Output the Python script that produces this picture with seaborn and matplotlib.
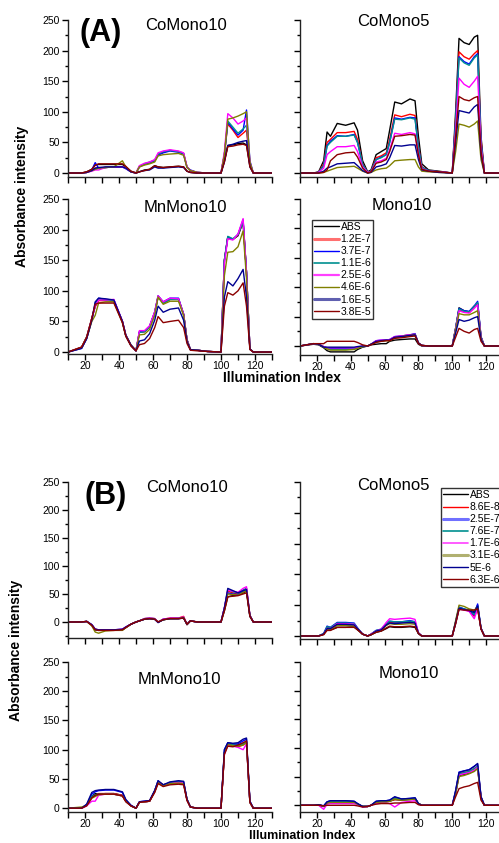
import pandas as pd
import seaborn as sns
import matplotlib.pyplot as plt
from matplotlib.lines import Line2D
from matplotlib.ticker import MultipleLocator

idx = [10, 18, 21, 24, 26, 28, 32, 37, 42, 44, 47, 50,
       52, 55, 58, 61, 63, 66, 70, 75, 78, 80, 82, 86, 92,
       100, 102, 104, 107, 110, 113, 115, 117, 119, 130]

labels_a = ['ABS', '1.2E-7', '3.7E-7', '1.1E-6', '2.5E-6', '4.6E-6', '1.6E-5', '3.8E-5']
labels_b = ['ABS', '8.6E-8', '2.5E-7', '7.6E-7', '1.7E-6', '3.1E-6', '5E-6', '6.3E-6']
colors = ['#000000', '#ff0000', '#0000ff', '#009090', '#ff00ff', '#808000', '#000090', '#8b0000']

# --- (A) ---
a_comono10 = [
    [0, 0, 2, 6, 13, 14, 14, 14, 14, 10, 3, 0, 2, 5, 6, 12, 10, 9, 10, 11, 10, 3, 1, 0, 0, 0, 20, 45, 46, 48, 49, 46, 12, 0, 0],
    [0, 0, 1, 4, 8, 8, 9, 10, 10, 8, 2, 0, 10, 14, 17, 20, 30, 34, 37, 35, 32, 10, 4, 1, 0, 0, 30, 80, 70, 58, 65, 70, 15, 0, 0],
    [0, 0, 1, 5, 17, 8, 9, 10, 10, 7, 2, 0, 10, 15, 17, 20, 29, 33, 36, 34, 31, 9, 5, 1, 0, 0, 30, 83, 72, 62, 70, 103, 20, 0, 0],
    [0, 0, 1, 4, 6, 8, 9, 10, 10, 8, 2, 0, 11, 15, 18, 21, 31, 35, 37, 35, 32, 10, 4, 1, 0, 0, 30, 85, 75, 65, 72, 78, 15, 0, 0],
    [0, 0, 1, 3, 5, 5, 9, 10, 10, 8, 2, 0, 12, 16, 18, 22, 33, 36, 38, 36, 33, 10, 4, 1, 0, 0, 35, 97, 90, 80, 85, 90, 18, 0, 0],
    [0, 0, 1, 4, 6, 8, 9, 10, 20, 10, 2, 0, 10, 13, 15, 18, 28, 30, 31, 32, 29, 9, 4, 1, 0, 0, 30, 88, 90, 93, 97, 100, 18, 0, 0],
    [0, 0, 1, 4, 8, 9, 10, 10, 10, 8, 2, 0, 2, 4, 5, 10, 8, 8, 9, 10, 9, 3, 1, 0, 0, 0, 18, 45, 47, 50, 52, 53, 10, 0, 0],
    [0, 0, 2, 6, 13, 15, 15, 15, 15, 11, 3, 0, 2, 4, 6, 12, 10, 9, 10, 11, 10, 3, 1, 0, 0, 0, 18, 43, 44, 46, 47, 45, 10, 0, 0],
]
a_comono5 = [
    [0, 0, 2, 20, 67, 60, 81, 78, 82, 70, 20, 2, 5, 30, 35, 40, 70, 116, 113, 121, 118, 60, 15, 5, 3, 0, 100, 220, 213, 210, 222, 225, 60, 0, 0],
    [0, 0, 1, 15, 50, 55, 66, 66, 68, 55, 15, 1, 3, 25, 28, 33, 55, 95, 92, 96, 94, 45, 10, 4, 2, 0, 90, 198, 190, 186, 195, 200, 55, 0, 0],
    [0, 0, 1, 12, 45, 52, 61, 60, 63, 50, 14, 1, 3, 22, 26, 30, 50, 90, 88, 91, 90, 42, 9, 4, 2, 0, 85, 190, 182, 178, 190, 195, 50, 0, 0],
    [0, 0, 1, 12, 44, 50, 60, 60, 62, 50, 14, 1, 3, 22, 25, 30, 50, 88, 87, 90, 88, 42, 9, 4, 2, 0, 85, 188, 180, 176, 188, 193, 50, 0, 0],
    [0, 0, 1, 8, 30, 35, 43, 43, 45, 35, 10, 1, 2, 18, 20, 24, 38, 65, 63, 66, 64, 32, 7, 3, 2, 0, 70, 155, 145, 140, 150, 158, 42, 0, 0],
    [0, 0, 0, 1, 3, 5, 9, 10, 11, 8, 3, 0, 1, 5, 7, 8, 12, 20, 21, 22, 22, 10, 3, 2, 1, 0, 35, 80, 78, 75, 80, 85, 22, 0, 0],
    [0, 0, 0, 3, 8, 10, 15, 16, 17, 12, 4, 0, 1, 10, 12, 15, 25, 45, 44, 46, 46, 22, 5, 3, 1, 0, 50, 102, 100, 98, 108, 112, 30, 0, 0],
    [0, 0, 0, 1, 5, 20, 30, 33, 34, 26, 8, 0, 2, 16, 18, 22, 35, 60, 61, 63, 62, 30, 6, 3, 2, 0, 60, 125, 120, 118, 123, 125, 35, 0, 0],
]
a_mnmono10 = [
    [0, 8, 25, 55, 75, 86, 85, 84, 50, 28, 12, 2, 33, 34, 42, 65, 90, 80, 86, 86, 62, 20, 4, 3, 1, 0, 150, 188, 184, 190, 212, 130, 5, 0, 0],
    [0, 8, 24, 55, 74, 84, 84, 83, 50, 27, 11, 2, 32, 33, 41, 64, 91, 81, 87, 87, 61, 20, 4, 3, 1, 0, 150, 187, 184, 191, 214, 130, 5, 0, 0],
    [0, 6, 22, 52, 80, 88, 86, 85, 50, 27, 11, 2, 33, 34, 42, 65, 92, 82, 88, 88, 62, 20, 4, 3, 1, 0, 150, 188, 184, 192, 216, 130, 5, 0, 0],
    [0, 7, 23, 54, 76, 86, 85, 84, 50, 27, 11, 2, 32, 33, 41, 64, 90, 80, 86, 86, 61, 20, 4, 3, 1, 0, 150, 189, 185, 192, 213, 130, 5, 0, 0],
    [0, 7, 23, 54, 75, 85, 85, 86, 50, 27, 11, 2, 35, 35, 43, 66, 92, 82, 88, 87, 62, 20, 4, 3, 1, 0, 145, 185, 183, 193, 218, 130, 5, 0, 0],
    [0, 7, 23, 50, 60, 80, 82, 82, 48, 26, 11, 2, 28, 29, 37, 60, 90, 78, 83, 83, 60, 19, 4, 3, 1, 0, 125, 163, 164, 172, 198, 120, 5, 0, 0],
    [0, 6, 22, 52, 82, 88, 87, 85, 50, 27, 11, 2, 18, 20, 30, 52, 75, 65, 70, 72, 52, 17, 4, 3, 1, 0, 90, 115, 108, 120, 135, 90, 5, 0, 0],
    [0, 8, 24, 55, 78, 80, 80, 80, 48, 26, 10, 2, 12, 14, 22, 40, 58, 48, 50, 52, 40, 14, 3, 2, 1, 0, 75, 97, 93, 100, 113, 75, 4, 0, 0],
]
a_mono10 = [
    [0, 3, 2, -3, -8, -10, -10, -10, -10, -6, -2, 0, 2, 3, 4, 4, 8, 10, 11, 12, 12, 3, 0, 0, 0, 0, 30, 65, 60, 58, 68, 72, 15, 0, 0],
    [0, 4, 3, -2, -4, -5, -5, -5, -5, -3, -1, 0, 3, 8, 9, 10, 10, 15, 17, 19, 20, 5, 1, 0, 0, 0, 30, 62, 58, 57, 66, 72, 15, 0, 0],
    [0, 4, 3, -1, -3, -4, -4, -4, -4, -3, -1, 0, 3, 9, 10, 10, 11, 16, 17, 19, 21, 5, 1, 0, 0, 0, 30, 64, 60, 59, 68, 76, 16, 0, 0],
    [0, 4, 3, -2, -4, -6, -6, -6, -5, -3, -1, 0, 3, 8, 9, 10, 10, 15, 16, 18, 20, 5, 1, 0, 0, 0, 30, 63, 59, 58, 67, 74, 15, 0, 0],
    [0, 4, 3, -1, -3, -3, -3, -3, -3, -2, 0, 0, 3, 9, 10, 10, 11, 16, 17, 19, 20, 5, 1, 0, 0, 0, 28, 60, 57, 56, 64, 70, 14, 0, 0],
    [0, 4, 3, -2, -5, -7, -7, -7, -6, -4, -1, 0, 3, 7, 8, 9, 9, 14, 16, 18, 19, 5, 1, 0, 0, 0, 27, 55, 53, 53, 57, 60, 13, 0, 0],
    [0, 4, 3, -2, -2, -2, -2, -2, -2, -1, 0, 0, 3, 8, 9, 10, 10, 15, 16, 18, 19, 5, 1, 0, 0, 0, 22, 45, 42, 44, 48, 50, 11, 0, 0],
    [0, 4, 4, 4, 8, 8, 8, 8, 8, 6, 2, 0, 2, 6, 8, 9, 9, 13, 14, 16, 17, 4, 1, 0, 0, 0, 15, 30, 25, 22, 28, 30, 8, 0, 0],
]

# --- (B) ---
b_comono10 = [
    [0, 0, 1, -5, -13, -14, -14, -14, -14, -10, -4, 0, 2, 5, 6, 5, 0, 4, 6, 6, 7, -4, 2, 0, 0, 0, 20, 45, 47, 48, 52, 55, 10, 0, 0],
    [0, 0, 1, -6, -14, -15, -15, -15, -14, -10, -4, 0, 2, 6, 7, 6, 0, 5, 7, 7, 10, -5, 2, 0, 0, 0, 25, 55, 52, 50, 56, 60, 12, 0, 0],
    [0, 0, 1, -5, -13, -14, -14, -14, -13, -9, -4, 0, 2, 5, 6, 5, -1, 5, 6, 6, 8, -4, 2, 0, 0, 0, 25, 52, 50, 49, 55, 58, 11, 0, 0],
    [0, 0, 1, -5, -14, -15, -14, -14, -14, -10, -4, 0, 2, 6, 7, 6, 0, 4, 6, 7, 8, -5, 2, 0, 0, 0, 25, 58, 54, 52, 57, 60, 12, 0, 0],
    [0, 0, 1, -5, -13, -14, -14, -14, -13, -9, -4, 0, 2, 6, 7, 6, 0, 5, 7, 7, 9, -4, 2, 0, 0, 0, 25, 57, 55, 53, 60, 63, 12, 0, 0],
    [0, 0, 1, -7, -18, -20, -16, -15, -15, -10, -4, 0, 2, 5, 6, 5, 0, 4, 6, 6, 8, -4, 2, 0, 0, 0, 22, 50, 49, 48, 53, 56, 11, 0, 0],
    [0, 0, 1, -5, -13, -14, -14, -14, -13, -9, -4, 0, 2, 5, 6, 5, -1, 4, 6, 6, 7, -4, 2, 0, 0, 0, 25, 60, 56, 52, 56, 58, 11, 0, 0],
    [0, 0, 1, -6, -14, -15, -15, -15, -14, -10, -4, 0, 2, 5, 6, 5, 0, 4, 6, 6, 7, -4, 2, 0, 0, 0, 20, 45, 46, 47, 50, 52, 10, 0, 0],
]
b_comono5 = [
    [0, 0, 0, 3, 12, 10, 14, 14, 15, 10, 3, 0, 2, 6, 8, 12, 15, 14, 14, 15, 14, 4, 0, 0, 0, 0, 20, 44, 43, 42, 40, 50, 12, 0, 0],
    [0, 0, 0, 3, 14, 12, 18, 18, 18, 12, 3, 0, 3, 8, 10, 18, 22, 22, 22, 23, 22, 5, 0, 0, 0, 0, 22, 46, 43, 40, 32, 45, 12, 0, 0],
    [0, 0, 0, 4, 16, 14, 22, 22, 21, 13, 3, 0, 3, 9, 11, 20, 24, 23, 23, 25, 23, 5, 0, 0, 0, 0, 23, 47, 44, 41, 34, 52, 13, 0, 0],
    [0, 0, 0, 4, 15, 14, 21, 21, 20, 13, 3, 0, 3, 9, 11, 20, 24, 23, 23, 24, 23, 5, 0, 0, 0, 0, 23, 46, 44, 42, 35, 48, 12, 0, 0],
    [0, 0, 0, 3, 12, 12, 20, 20, 19, 12, 3, 0, 3, 8, 11, 22, 28, 27, 28, 29, 27, 5, 0, 0, 0, 0, 22, 44, 42, 40, 28, 44, 12, 0, 0],
    [0, 0, 0, 3, 10, 10, 17, 17, 16, 11, 3, 0, 2, 7, 9, 17, 20, 19, 19, 20, 19, 4, 0, 0, 0, 0, 25, 50, 48, 44, 42, 46, 12, 0, 0],
    [0, 0, 0, 3, 12, 12, 19, 19, 18, 12, 3, 0, 2, 8, 10, 18, 21, 20, 21, 22, 21, 4, 0, 0, 0, 0, 22, 45, 43, 41, 38, 48, 12, 0, 0],
    [0, 0, 0, 2, 9, 9, 14, 14, 14, 10, 3, 0, 2, 6, 8, 13, 16, 15, 15, 16, 15, 4, 0, 0, 0, 0, 20, 43, 42, 42, 42, 44, 11, 0, 0],
]
b_mnmono10 = [
    [0, 0, 5, 20, 25, 24, 25, 25, 22, 12, 4, 0, 10, 11, 12, 30, 45, 40, 43, 44, 43, 15, 2, 0, 0, 0, 95, 110, 108, 108, 110, 112, 10, 0, 0],
    [0, 0, 5, 18, 22, 25, 25, 25, 22, 12, 4, 0, 10, 11, 12, 28, 46, 40, 42, 44, 42, 14, 2, 0, 0, 0, 95, 108, 107, 105, 108, 115, 10, 0, 0],
    [0, 0, 6, 24, 28, 30, 31, 31, 27, 14, 5, 0, 11, 12, 13, 30, 47, 39, 44, 46, 45, 15, 2, 0, 0, 0, 100, 112, 110, 110, 115, 118, 12, 0, 0],
    [0, 0, 5, 20, 23, 24, 24, 24, 21, 12, 4, 0, 10, 11, 12, 29, 46, 39, 43, 45, 44, 15, 2, 0, 0, 0, 96, 110, 108, 107, 110, 113, 10, 0, 0],
    [0, 0, 4, 12, 12, 22, 24, 24, 21, 12, 4, 0, 10, 11, 12, 28, 45, 38, 42, 44, 43, 14, 2, 0, 0, 0, 92, 108, 106, 104, 100, 110, 10, 0, 0],
    [0, 2, 5, 17, 20, 23, 24, 24, 21, 12, 4, 0, 10, 11, 12, 28, 44, 38, 42, 43, 42, 14, 2, 0, 0, 0, 94, 109, 107, 106, 108, 112, 10, 0, 0],
    [0, 0, 7, 27, 30, 31, 32, 32, 28, 15, 5, 0, 11, 12, 13, 30, 47, 40, 45, 47, 46, 15, 2, 0, 0, 0, 100, 112, 111, 112, 118, 120, 12, 0, 0],
    [0, 0, 4, 18, 22, 24, 24, 24, 21, 11, 4, 0, 10, 11, 12, 27, 42, 37, 40, 41, 40, 13, 2, 0, 0, 0, 92, 106, 105, 108, 112, 115, 10, 0, 0],
]
b_mono10 = [
    [0, 0, 1, -2, 4, 5, 5, 5, 5, 2, -2, -2, 0, 5, 6, 6, 7, 10, 9, 10, 11, 3, 0, 0, 0, 0, 20, 52, 54, 56, 60, 65, 12, 0, 0],
    [0, 0, 1, -2, 5, 6, 6, 6, 6, 2, -2, -2, 0, 6, 7, 7, 8, 10, 10, 11, 12, 3, 0, 0, 0, 0, 22, 55, 57, 59, 64, 68, 14, 0, 0],
    [0, 0, 1, -1, 6, 8, 8, 8, 7, 3, -2, -2, 0, 7, 8, 8, 9, 14, 11, 12, 13, 3, 0, 0, 0, 0, 25, 58, 60, 62, 68, 72, 15, 0, 0],
    [0, 0, 1, -2, 5, 7, 7, 7, 6, 2, -2, -2, 0, 6, 7, 7, 8, 12, 10, 11, 12, 3, 0, 0, 0, 0, 23, 55, 57, 59, 64, 68, 14, 0, 0],
    [0, 0, 0, -7, 2, 3, 3, 3, 3, 1, -3, -2, 0, 3, 4, 4, 3, -3, 5, 7, 8, 2, 0, 0, 0, 0, 22, 53, 55, 57, 61, 66, 13, 0, 0],
    [0, 0, 1, -2, 4, 5, 5, 5, 5, 2, -2, -2, 0, 5, 6, 6, 7, 11, 9, 10, 11, 3, 0, 0, 0, 0, 21, 50, 52, 55, 59, 64, 13, 0, 0],
    [0, 0, 1, -1, 6, 8, 8, 8, 7, 3, -2, -2, 0, 7, 8, 8, 9, 15, 11, 12, 13, 3, 0, 0, 0, 0, 26, 57, 60, 62, 68, 73, 15, 0, 0],
    [0, 0, 0, -1, 0, 0, 0, 0, 0, -1, -3, -2, 0, 2, 3, 3, 3, 4, 4, 5, 5, 1, 0, 0, 0, 0, 15, 29, 32, 34, 38, 40, 9, 0, 0],
]

sns.set_style('ticks')
plt.rcParams['font.family'] = ['Liberation Sans', 'DejaVu Sans']
plt.rcParams['text.color'] = 'black'
plt.rcParams['xtick.color'] = 'black'
plt.rcParams['ytick.color'] = 'black'

W, H = 499, 843
fig = plt.figure(figsize=(W / 100, H / 100), dpi=100)


def to_frame(series, labels):
    parts = []
    for lab, vals in zip(labels, series):
        parts.append(pd.DataFrame({'Illumination Index': idx, 'Absorbance': vals, 'Conc': lab}))
    return pd.concat(parts, ignore_index=True)


def panel(series, labels, left, right, top, bottom, ybottom, xlabels, ylabels):
    # positions given in pixels, converted to figure fractions
    ax = fig.add_axes([left / W, 1 - bottom / H, (right - left) / W, (bottom - top) / H])
    df = to_frame(series, labels)
    sns.lineplot(data=df, x='Illumination Index', y='Absorbance', hue='Conc',
                 hue_order=labels, palette=colors, ax=ax, legend=False,
                 estimator=None, sort=False, linewidth=1.0)
    ax.set_xlim(10, 130)
    ax.set_ylim(ybottom, 250)
    ax.set_xlabel('')
    ax.set_ylabel('')
    for s in ['top', 'right']:
        ax.spines[s].set_visible(False)
    for s in ['left', 'bottom']:
        ax.spines[s].set_linewidth(1.0)
        ax.spines[s].set_color('#222222')
    ax.xaxis.set_major_locator(MultipleLocator(20))
    ax.xaxis.set_minor_locator(MultipleLocator(10))
    ax.yaxis.set_major_locator(MultipleLocator(50))
    ax.yaxis.set_minor_locator(MultipleLocator(25))
    ax.tick_params(axis='x', which='both', length=4, width=1, direction='out',
                   labelsize=7.5, pad=1, labelbottom=xlabels)
    ax.tick_params(axis='y', which='major', length=4, width=1, direction='out',
                   labelsize=7.5, pad=2, labelleft=ylabels)
    ax.tick_params(axis='y', which='minor', length=2, width=1, direction='out')
    ax.set_xticks([20, 40, 60, 80, 100, 120])
    return ax


ax1 = panel(a_comono10, labels_a, 68, 272, 20, 177, -6.5, False, True)
ax2 = panel(a_comono5, labels_a, 300, 503, 20, 177, -6.5, False, False)
ax3 = panel(a_mnmono10, labels_a, 68, 272, 199, 354.5, -4, True, True)
ax4 = panel(a_mono10, labels_a, 300, 503, 199, 355, -15.3, True, False)
ax5 = panel(b_comono10, labels_b, 68, 272, 482, 638, -28.6, False, True)
ax6 = panel(b_comono5, labels_b, 300, 503, 482, 639, -4.9, False, False)
ax7 = panel(b_mnmono10, labels_b, 68, 272, 662, 812, -6.5, True, True)
ax8 = panel(b_mono10, labels_b, 300, 503, 662, 812, -11.7, True, False)


def ftext(x, y, s, **kw):
    fig.text(x / W, 1 - y / H, s, ha='center', va='center', **kw)


# panel titles
ftext(186, 25, 'CoMono10', fontsize=12)
ftext(393, 21, 'CoMono5', fontsize=12)
ftext(185, 207, 'MnMono10', fontsize=12)
ftext(402, 206, 'Mono10', fontsize=12)
ftext(187, 487, 'CoMono10', fontsize=12)
ftext(393, 486, 'CoMono5', fontsize=12)
ftext(179, 679, 'MnMono10', fontsize=12)
ftext(409, 674, 'Mono10', fontsize=12)

ftext(101, 33, '(A)', fontsize=22, fontweight='bold')
ftext(106, 496, '(B)', fontsize=22, fontweight='bold')

ftext(22, 196, 'Absorbance intensity', fontsize=10, fontweight='bold', rotation=90)
ftext(16, 650, 'Absorbance intensity', fontsize=10, fontweight='bold', rotation=90)
ftext(282, 378, 'Illumination Index', fontsize=10, fontweight='bold')
fig.text(302 / W, 1 / H, 'Illumination Index', ha='center', va='bottom',
         fontsize=9, fontweight='bold')

# legends (Origin-style boxes)
leg_a_colors = ['#000000', '#ff7070', '#0000ff', '#009090', '#ff40ff', '#808000', '#6060b0', '#8b0000']
leg_a_widths = [1.0, 2.2, 1.0, 1.2, 1.6, 1.0, 2.2, 1.0]
handles_a = [Line2D([], [], color=c, lw=w) for c, w in zip(leg_a_colors, leg_a_widths)]
leg_b_colors = ['#000000', '#ff0000', '#7070ff', '#009090', '#ff40ff', '#b0b070', '#000090', '#8b0000']
leg_b_widths = [1.0, 1.0, 2.2, 1.2, 1.2, 2.2, 1.0, 1.0]
handles_b = [Line2D([], [], color=c, lw=w) for c, w in zip(leg_b_colors, leg_b_widths)]

for ax, handles, labels, (lx, ly) in [(ax4, handles_a, labels_a, (312, 220)),
                                       (ax6, handles_b, labels_b, (441, 488))]:
    leg = ax.legend(handles, labels, loc='upper left', bbox_to_anchor=(lx / W, 1 - ly / H),
                    bbox_transform=fig.transFigure, fontsize=7.5, frameon=True, fancybox=False,
                    borderpad=0.2, labelspacing=0.2, handlelength=2.4, handletextpad=0.15,
                    borderaxespad=0)
    leg.get_frame().set_edgecolor('black')
    leg.get_frame().set_linewidth(1.0)

plt.savefig('out.png', dpi=100)
